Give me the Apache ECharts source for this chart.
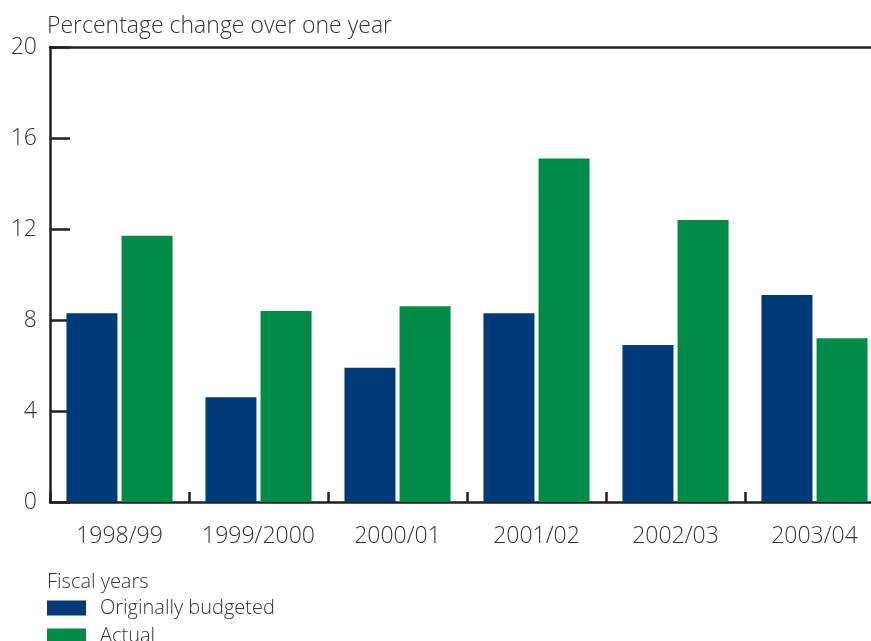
<!DOCTYPE html>
<html>
<head>
<meta charset="utf-8">
<script src="https://cdn.jsdelivr.net/npm/echarts@6/dist/echarts.min.js"></script>
<style>
html,body{margin:0;padding:0;background:#fff;overflow:hidden;width:871px;height:641px;}
#chart{width:900px;height:680px;}
</style>
</head>
<body>
<div id="chart"></div>
<script>
const categories = ['1998/99','1999/2000','2000/01','2001/02','2002/03','2003/04'];
const budgeted = [8.3, 4.6, 5.9, 8.3, 6.9, 9.1];
const actual = [11.7, 8.4, 8.6, 15.1, 12.4, 7.2];
const seriesNames = ['Originally budgeted','Actual'];
const yTitle = 'Percentage change over one year';
const legendTitle = 'Fiscal years';

const FONT = 'Open Sans';
const FW = 300;
const TXT = '#333333';
const AX = '#231f20';

const chart = echarts.init(document.getElementById('chart'), null, {renderer:'canvas'});
chart.setOption({
  backgroundColor:'#fff',
  animation:false,
  textStyle:{fontFamily:FONT},
  title:[
    {text:yTitle,left:47,top:15,padding:0,textStyle:{fontFamily:FONT,fontSize:23,fontWeight:FW,color:TXT}},
    {text:legendTitle,left:47,top:572,padding:0,textStyle:{fontFamily:FONT,fontSize:20,fontWeight:FW,color:TXT}}
  ],
  legend:{
    orient:'vertical',left:47,top:598,padding:0,itemWidth:39,itemHeight:15,itemGap:8,
    icon:'rect',
    data:seriesNames,
    textStyle:{fontFamily:FONT,fontSize:20,fontWeight:FW,color:TXT,padding:[0,0,0,9]}
  },
  grid:{left:50,top:47,width:834,height:455,show:false,containLabel:false},
  xAxis:[{
    type:'category',data:categories,position:'bottom',
    axisLine:{show:true,lineStyle:{color:AX,width:2.5}},
    axisTick:{show:true,interval:0,inside:true,length:10,lineStyle:{color:AX,width:2.5},alignWithLabel:false},
    axisLabel:{interval:0,fontFamily:FONT,fontSize:23,fontWeight:FW,color:TXT,margin:23},
    splitLine:{show:false}
  },{
    type:'category',data:categories,position:'top',
    axisLine:{show:true,lineStyle:{color:AX,width:2.5}},
    axisTick:{show:false},axisLabel:{show:false},splitLine:{show:false}
  }],
  yAxis:{
    type:'value',min:0,max:20,interval:4,
    axisLine:{show:true,lineStyle:{color:AX,width:2.5}},
    axisTick:{show:true,inside:true,length:20,lineStyle:{color:AX,width:2.5}},
    axisLabel:{fontFamily:FONT,fontSize:23,fontWeight:FW,color:TXT,margin:13},
    splitLine:{show:false}
  },
  series:[
    {name:seriesNames[0],type:'bar',data:budgeted,barWidth:51,barGap:'8%',itemStyle:{color:'#003b79'}},
    {name:seriesNames[1],type:'bar',data:actual,barWidth:51,barGap:'8%',itemStyle:{color:'#008c46'}}
  ]
});
</script>
</body>
</html>
